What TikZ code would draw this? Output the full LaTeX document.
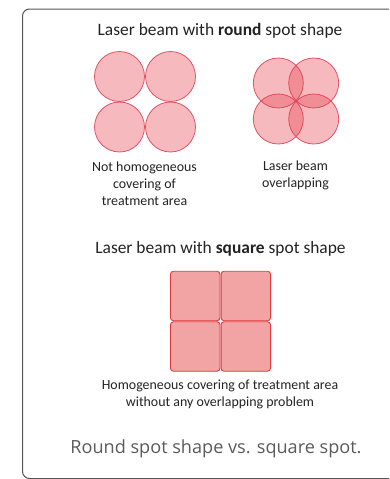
\documentclass[tikz,border=0pt]{standalone}
\usepackage{fontspec}
\setmainfont{Carlito}
\newfontfamily\capfont{Open Sans}
\definecolor{spotred}{HTML}{E63946}
\definecolor{spotline}{HTML}{E03A50}
\definecolor{sqfill}{HTML}{F2A3A3}
\definecolor{sqline}{HTML}{E0393E}
\definecolor{txt}{HTML}{222222}
\definecolor{captxt}{HTML}{5A5A5A}
\definecolor{framec}{HTML}{555555}
\begin{document}
\begin{tikzpicture}[x=1pt,y=-1pt,
  spot/.style={circle,minimum size=50pt,inner sep=0pt,fill=spotred,fill opacity=0.35,draw=spotline,draw opacity=0.85,line width=0.8pt},
  sq/.style={rectangle,minimum size=49.5pt,inner sep=0pt,fill=sqfill,draw=sqline,line width=0.9pt,rounded corners=3pt},
  titletext/.style={font=\fontsize{17.4}{20}\selectfont,text=txt,inner sep=0pt},
  lab/.style={font=\fontsize{13.9}{17}\selectfont,text=txt,align=center,inner sep=0pt},
  captiontext/.style={font=\capfont\fontsize{18.1}{21}\selectfont,text=captxt,inner sep=0pt}]
\useasboundingbox (0,0) rectangle (389,479);
\begin{scope}
\clip (0,0) rectangle (389,479);
\draw[framec,line width=1pt,rounded corners=7pt] (22.5,9) rectangle (420,478.5);
\end{scope}
% title 1
\node[titletext] (t1) at (220,31) {Laser beam with \textbf{round} spot shape};
% left group: touching circles
\node[spot] (a1) at (119.5,76.5) {};
\node[spot] (a2) at (170.5,76.5) {};
\node[spot] (a3) at (119.5,127) {};
\node[spot] (a4) at (170.5,127) {};
% right group: overlapping
\node[spot] (b1) at (278.3,83) {};
\node[spot] (b2) at (313.7,83) {};
\node[spot] (b3) at (278.3,119) {};
\node[spot] (b4) at (313.7,119) {};
\node[lab] (l1) at (144.5,183.5) {Not homogeneous\\covering of\\treatment area};
\node[lab] (l2) at (295.5,175) {Laser beam\\overlapping};
% title 2
\node[titletext] (t2) at (220.5,248.5) {Laser beam with \textbf{square} spot shape};
\node[sq] (s1) at (195.2,296) {};
\node[sq] (s2) at (245.8,296) {};
\node[sq] (s3) at (195.2,346.5) {};
\node[sq] (s4) at (245.8,346.5) {};
\node[lab] (l3) at (220,394.5) {Homogeneous covering of treatment area\\without any overlapping problem};
\node[captiontext] (c) at (216,448.5) {Round spot shape vs. square spot.};
\end{tikzpicture}
\end{document}
